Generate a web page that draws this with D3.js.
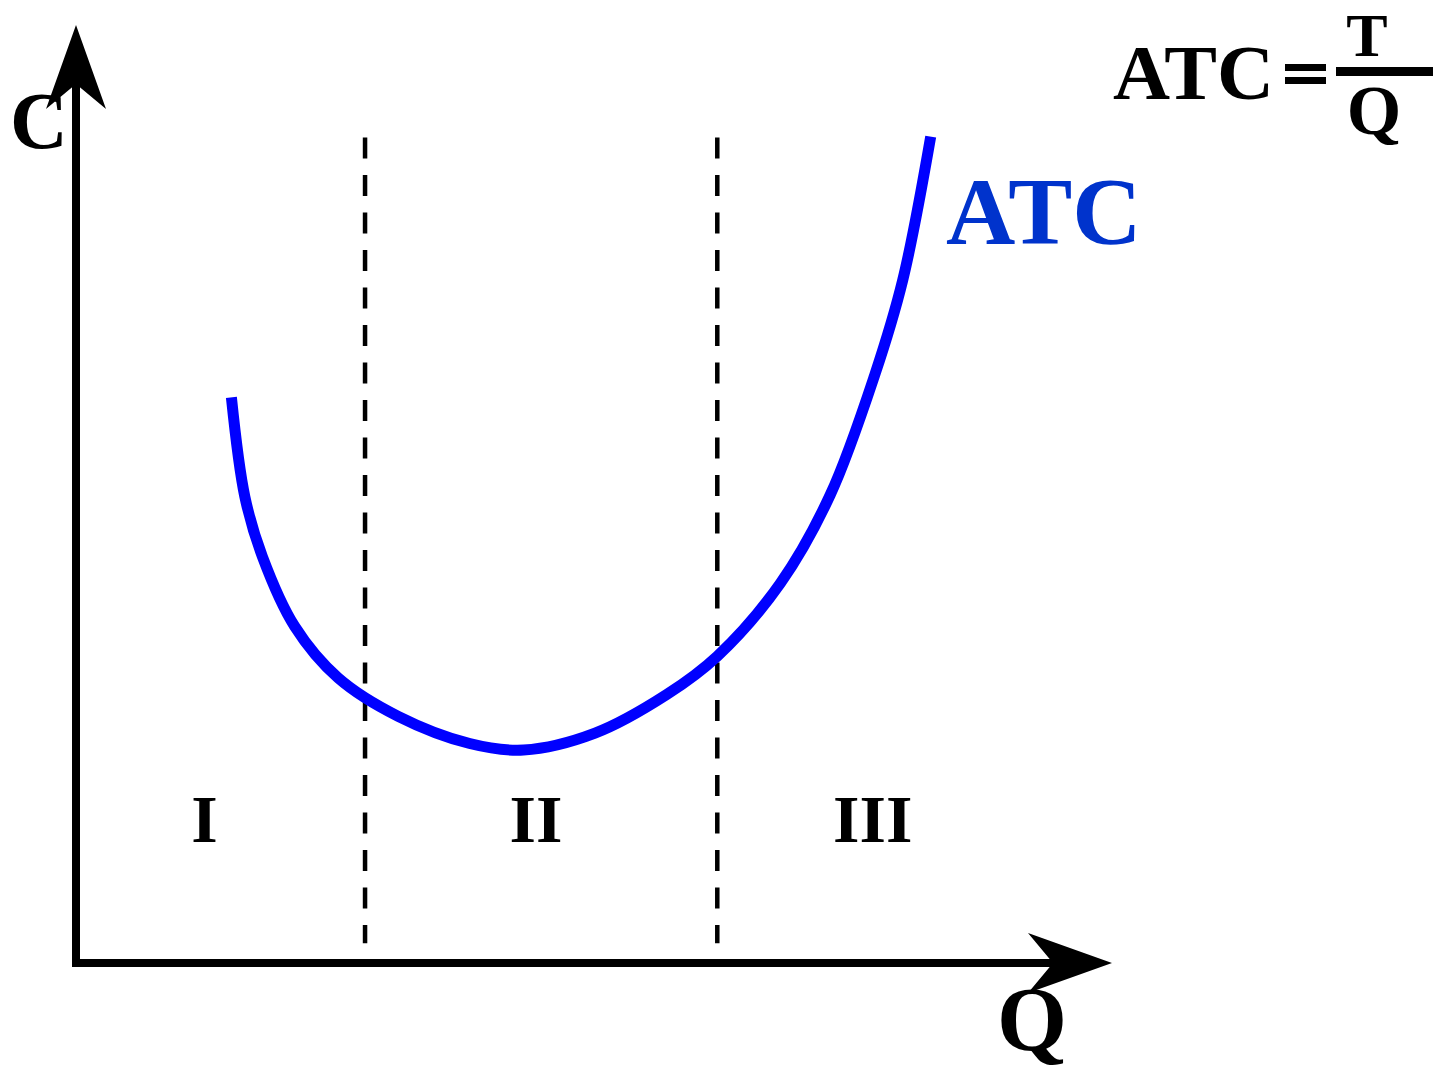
<!DOCTYPE html>
<html>
<head>
<meta charset="utf-8">
<script src="https://cdn.jsdelivr.net/npm/d3@7"></script>
<style>
	html, body { margin: 0; padding: 0; background: #fff; }
	svg { display: block; }
	text { font-family: "Liberation Serif", "Times New Roman", serif; font-weight: bold; }
</style>
</head>
<body>
<div id="chart"></div>
<script>
// ATC curve (quantity, cost) in axis units 0..100
var quantity = [15.0, 16.3, 18.0, 21.1, 25.3, 31.1, 38.0, 43.2, 50.1, 57.0, 61.9, 68.0, 72.8, 77.1, 79.8, 82.5];
var cost = [60.3, 49.7, 43.3, 35.9, 30.4, 26.3, 23.4, 22.7, 24.5, 28.6, 32.7, 40.5, 49.9, 62.7, 72.8, 88.1];

// stage boundaries (dashed) and stage labels
var boundaries = [27.9, 61.9];
var stageNames = ["I", "II", "III"];
var stageAt = [12.4, 44.4, 76.9];

var width = 1433, height = 1070;

var svg = d3.select("#chart").append("svg")
	.attr("width", width)
	.attr("height", height);

var x = d3.scaleLinear().domain([0, 100]).range([76, 1112]);
var y = d3.scaleLinear().domain([0, 100]).range([963, 25]);

// dashed stage lines
svg.selectAll("line.stage")
	.data(boundaries)
	.enter()
	.append("line")
	.attr("class", "stage")
	.attr("x1", d => x(d))
	.attr("x2", d => x(d))
	.attr("y1", y(88))
	.attr("y2", y(2.1))
	.attr("stroke", "#000")
	.attr("stroke-width", 4.5)
	.attr("stroke-dasharray", "21 16.5");

// axes
var x0 = x(0), y0 = y(0);
var arrowLen = 84, arrowHalf = 30, notch = 25;

svg.append("line")
	.attr("x1", x0).attr("y1", y0)
	.attr("x2", x0).attr("y2", y(100) + arrowLen - notch)
	.attr("stroke", "#000").attr("stroke-width", 8).attr("stroke-linecap", "square");

svg.append("line")
	.attr("x1", x0).attr("y1", y0)
	.attr("x2", x(100) - arrowLen + notch).attr("y2", y0)
	.attr("stroke", "#000").attr("stroke-width", 8).attr("stroke-linecap", "square");

var yTip = y(100);
svg.append("path")
	.attr("d", `M${x0},${yTip} L${x0 + arrowHalf},${yTip + arrowLen} L${x0},${yTip + arrowLen - notch} L${x0 - arrowHalf},${yTip + arrowLen} Z`)
	.attr("fill", "#000");

var xTip = x(100);
svg.append("path")
	.attr("d", `M${xTip},${y0} L${xTip - arrowLen},${y0 - arrowHalf} L${xTip - arrowLen + notch},${y0} L${xTip - arrowLen},${y0 + arrowHalf} Z`)
	.attr("fill", "#000");

// ATC curve
var points = quantity.map((q, i) => [q, cost[i]]);
var line = d3.line()
	.x(d => x(d[0]))
	.y(d => y(d[1]))
	.curve(d3.curveCatmullRom.alpha(0.5));

svg.append("path")
	.datum(points)
	.attr("d", line)
	.attr("fill", "none")
	.attr("stroke", "#0000ff")
	.attr("stroke-width", 11);

// stage labels
svg.selectAll("text.stage")
	.data(stageNames)
	.enter()
	.append("text")
	.attr("class", "stage")
	.attr("x", (d, i) => x(stageAt[i]))
	.attr("y", y(12.9))
	.attr("text-anchor", "middle")
	.style("font-size", "68px")
	.text(d => d);

// axis labels
svg.append("text")
	.attr("x", 10).attr("y", 148)
	.style("font-size", "80px")
	.text("C");

svg.append("text")
	.attr("x", 997).attr("y", 1050)
	.style("font-size", "90px")
	.text("Q");

svg.append("text")
	.attr("x", 946).attr("y", 244)
	.style("font-size", "96px")
	.attr("fill", "#0033cc")
	.text("ATC");

// formula ATC = T / Q
svg.append("text")
	.attr("x", 1113).attr("y", 99)
	.style("font-size", "79px")
	.text("ATC");

svg.append("rect").attr("x", 1285).attr("y", 64).attr("width", 41).attr("height", 7).attr("fill", "#000");
svg.append("rect").attr("x", 1285).attr("y", 77).attr("width", 41).attr("height", 7).attr("fill", "#000");
svg.append("rect").attr("x", 1336).attr("y", 67).attr("width", 97).attr("height", 9).attr("fill", "#000");

svg.append("text")
	.attr("x", 1367).attr("y", 56)
	.attr("text-anchor", "middle")
	.style("font-size", "62px")
	.text("T");

svg.append("text")
	.attr("x", 1374).attr("y", 134)
	.attr("text-anchor", "middle")
	.style("font-size", "70px")
	.text("Q");
</script>
</body>
</html>
